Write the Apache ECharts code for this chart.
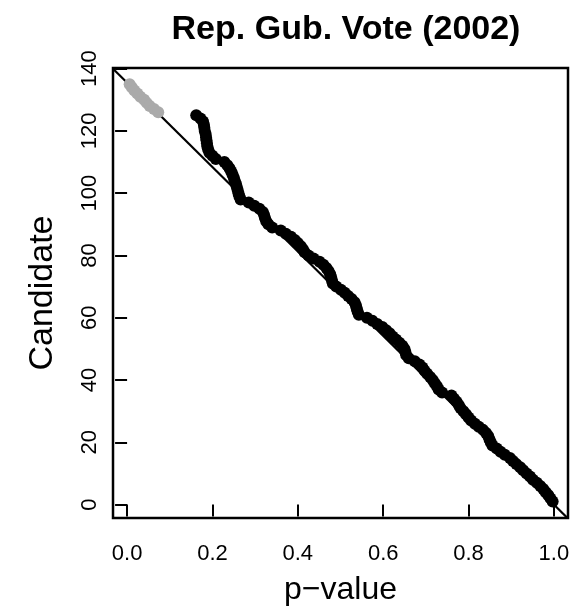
<!DOCTYPE html>
<html>
<head>
<meta charset="utf-8">
<script src="https://cdn.jsdelivr.net/npm/echarts@6/dist/echarts.min.js"></script>
<style>
html,body{margin:0;padding:0;background:#fff;}
#chart{width:584px;height:613px;}
</style>
</head>
<body>
<div id="chart"></div>
<script>
// ---- data ----
const titleText = 'Rep. Gub. Vote (2002)';
const xTitle = 'p\u2212value';
const yTitle = 'Candidate';
const xTicks = [0.0, 0.2, 0.4, 0.6, 0.8, 1.0];
const yTicks = [0, 20, 40, 60, 80, 100, 120, 140];

// reference line: Candidate = lineIntercept + lineSlope * p
const lineIntercept = 135.5;
const lineSlope = -135.5;

const grayRank = [135, 134, 133, 132, 131, 130, 129, 128, 127, 126];
const grayP = [0.006, 0.011, 0.017, 0.024, 0.031, 0.040, 0.046, 0.053, 0.063, 0.073];

const blackRank = [125,124,123,122,121,120,119,118,117,116,115,114,113,112,111,110,109,108,107,106,
  105,104,103,102,101,100,99,98,97,96,95,94,93,92,91,90,89,88,87,86,
  85,84,83,82,81,80,79,78,77,76,75,74,73,72,71,70,69,68,67,66,
  65,64,63,62,61,60,59,58,57,56,55,54,53,52,51,50,49,48,47,46,
  45,44,43,42,41,40,39,38,37,36,35,34,33,32,31,30,29,28,27,26,
  25,24,23,22,21,20,19,18,17,16,15,14,13,12,11,10,9,8,7,6,5,4,3,2,1];
const blackP = [0.162,0.172,0.178,0.180,0.181,0.182,0.184,0.185,0.186,0.187,0.188,0.190,0.193,0.200,0.208,0.228,0.235,0.240,0.244,0.247,
  0.250,0.252,0.255,0.257,0.259,0.261,0.263,0.266,0.285,0.298,0.310,0.318,0.321,0.323,0.326,0.331,0.340,0.360,0.372,0.384,
  0.393,0.400,0.407,0.412,0.416,0.425,0.437,0.451,0.460,0.467,0.472,0.476,0.478,0.480,0.482,0.490,0.501,0.510,0.518,0.526,
  0.533,0.536,0.538,0.540,0.543,0.562,0.575,0.586,0.598,0.607,0.615,0.622,0.630,0.638,0.645,0.650,0.652,0.654,0.660,0.674,
  0.685,0.692,0.697,0.703,0.710,0.716,0.721,0.726,0.730,0.738,0.760,0.766,0.772,0.777,0.781,0.788,0.794,0.800,0.806,0.815,
  0.824,0.834,0.841,0.846,0.849,0.852,0.856,0.866,0.875,0.885,0.897,0.904,0.912,0.921,0.928,0.936,0.944,0.951,0.960,0.968,
  0.975,0.981,0.987,0.992,0.997];

// ---- chart ----
const xMin = -0.033, xMax = 1.033;
const yMin = -4.3, yMax = 140.2;
const FONT = '"Liberation Sans", Arial, Helvetica, sans-serif';

const grayData = grayP.map((p, i) => [p, grayRank[i]]);
const blackData = blackP.map((p, i) => [p, blackRank[i]]);
const lineData = [xMin, xMax].map(x => [x, lineIntercept + lineSlope * x]);

const chart = echarts.init(document.getElementById('chart'), null, {renderer: 'canvas'});
chart.setOption({
  animation: false,
  backgroundColor: '#ffffff',
  title: {
    text: titleText,
    left: 341,
    top: 8,
    textAlign: 'center',
    textStyle: {fontFamily: FONT, fontWeight: 'bold', fontSize: 34, lineHeight: 34, color: '#000'}
  },
  grid: {
    left: 113, top: 68, width: 455, height: 450,
    show: true, borderColor: '#000', borderWidth: 2.5, backgroundColor: 'transparent',
    containLabel: false, outerBoundsMode: 'none'
  },
  xAxis: {
    type: 'value', min: xMin, max: xMax,
    name: xTitle, nameLocation: 'middle', nameGap: 56,
    nameTextStyle: {fontFamily: FONT, fontSize: 32, color: '#000'},
    axisLine: {show: false},
    axisTick: {show: true, inside: false, length: 12, customValues: xTicks, lineStyle: {color: '#000', width: 2}},
    axisLabel: {show: true, margin: 25, customValues: xTicks, fontFamily: FONT, fontSize: 22, color: '#000',
      formatter: v => Number(v).toFixed(1)},
    splitLine: {show: false}
  },
  yAxis: {
    type: 'value', min: yMin, max: yMax,
    name: yTitle, nameLocation: 'middle', nameGap: 53, nameRotate: 90,
    nameTextStyle: {fontFamily: FONT, fontSize: 34, color: '#000'},
    axisLine: {show: false},
    axisTick: {show: true, inside: false, length: 12, customValues: yTicks, lineStyle: {color: '#000', width: 2}},
    axisLabel: {show: true, margin: 12, rotate: 90, customValues: yTicks, fontFamily: FONT, fontSize: 22, color: '#000',
      formatter: v => String(v)},
    splitLine: {show: false}
  },
  series: [
    {
      type: 'line', data: lineData, symbol: 'none', clip: true,
      lineStyle: {color: '#000', width: 2.2}, z: 1, silent: true
    },
    {
      type: 'scatter', data: grayData, symbol: 'circle', symbolSize: 12,
      itemStyle: {color: '#AAAAAA', opacity: 1}, z: 2
    },
    {
      type: 'scatter', data: blackData, symbol: 'circle', symbolSize: 12,
      itemStyle: {color: '#000000', opacity: 1}, z: 3
    }
  ]
});
</script>
</body>
</html>
